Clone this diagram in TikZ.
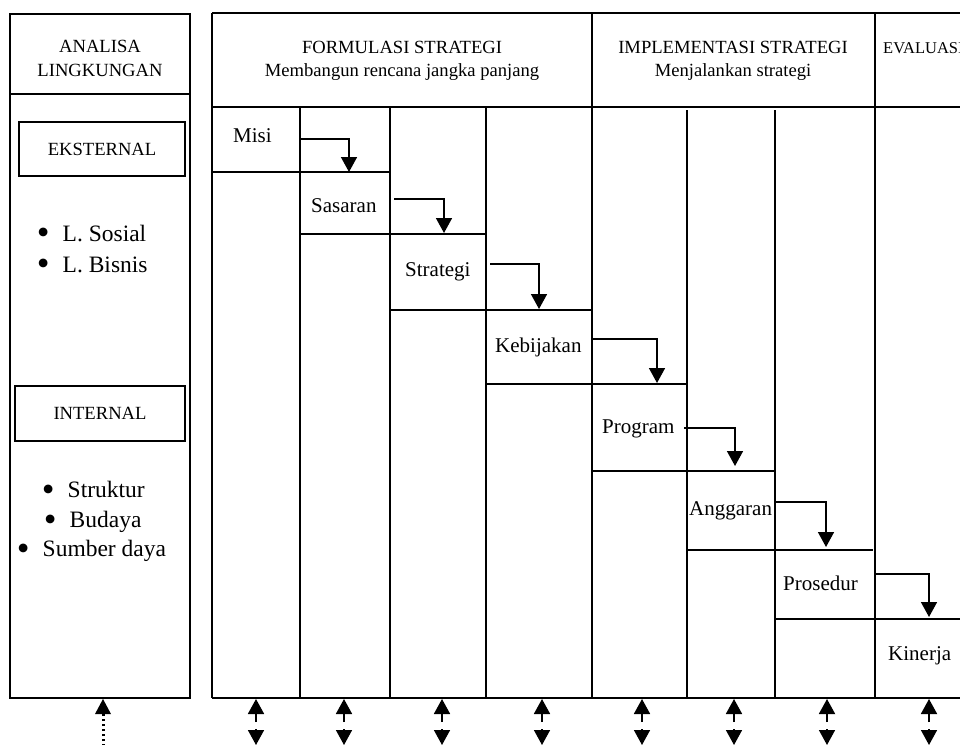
\documentclass[tikz,border=0pt]{standalone}
\usepackage{fontspec}
\setmainfont{Liberation Serif}
\usetikzlibrary{arrows.meta}
% bullet centred on the node's west edge, text 19.5pt to the right
\newcommand\bitem[1]{\smash{\makebox[0pt][c]{\raisebox{-0.17em}{\scalebox{1.55}{•}}}}\hspace{19.5pt}#1}
\begin{document}
\begin{tikzpicture}[x=1pt,y=-1pt,
  grid/.style={line width=1.6pt},
  headtxt/.style={font=\fontsize{18.6}{22}\selectfont, anchor=base, inner sep=0pt},
  celltxt/.style={font=\fontsize{21}{25}\selectfont, anchor=base west, inner sep=0pt},
  bullettxt/.style={font=\fontsize{23.5}{28}\selectfont, anchor=base west, inner sep=0pt},
  tagbox/.style={draw, line width=1.6pt, inner sep=0pt, font=\fontsize{18.6}{22}\selectfont},
  flow/.style={line width=1.6pt, -{Triangle[width=16pt,length=15pt]}},
  feed/.style={line width=1.8pt, -{Triangle[width=16pt,length=15pt]}},
  dotfeed/.style={line width=3pt, dash pattern=on 2.5pt off 2.5pt, -{Triangle[width=16pt,length=15pt,line width=0pt]}},
  downtip/.style={line width=1.6pt, -{Triangle[width=16pt,length=15pt]}}
]
\useasboundingbox (0,0) rectangle (960,744);
\clip (0,0) rectangle (960,744);

% ---- environment analysis column ----
\draw[grid] (10,14) rectangle (190,698);
\draw[grid] (10,94) -- (190,94);
\node[headtxt] (anl1) at (100,52) {ANALISA};
\node[headtxt] (anl2) at (100,76) {LINGKUNGAN};
\node[tagbox, minimum width=166pt, minimum height=54pt] (eks) at (102,149) {EKSTERNAL};
\node[tagbox, minimum width=170pt, minimum height=55pt] (int) at (100,413.5) {INTERNAL};
\node[bullettxt] (b1) at (43,241) {\bitem{L. Sosial}};
\node[bullettxt] (b2) at (43,272) {\bitem{L. Bisnis}};
\node[bullettxt] (b3) at (48,497) {\bitem{Struktur}};
\node[bullettxt] (b4) at (50,527) {\bitem{Budaya}};
\node[bullettxt] (b5) at (23,556) {\bitem{Sumber daya}};

% ---- main process table ----
\draw[grid] (212,13) -- (962,13);
\draw[grid] (212,107) -- (962,107);
\draw[grid] (212,698) -- (962,698);
\foreach \x in {212,592,875} \draw[grid] (\x,13) -- (\x,698);
\foreach \x in {300,390,486} \draw[grid] (\x,107) -- (\x,698);
\foreach \x in {687,775} \draw[grid] (\x,110) -- (\x,698);

% staircase rows
\draw[grid] (212,172) -- (390,172);
\draw[grid] (300,234) -- (486,234);
\draw[grid] (390,310) -- (592,310);
\draw[grid] (486,384) -- (687,384);
\draw[grid] (592,471) -- (775,471);
\draw[grid] (687,550) -- (873,550);
\draw[grid] (775,619) -- (962,619);

% headers
\node[headtxt] (fs1) at (402,53) {FORMULASI STRATEGI};
\node[headtxt] (fs2) at (402,76) {Membangun rencana jangka panjang};
\node[headtxt] (is1) at (733,53) {IMPLEMENTASI STRATEGI};
\node[headtxt] (is2) at (733,76) {Menjalankan strategi};
\node[font=\fontsize{16.5}{20}\selectfont, anchor=base west, inner sep=0pt] (ev) at (883,53) {EVALUASI};

% step labels
\node[celltxt] (misi) at (233,142.5) {Misi};
\node[celltxt] (sas)  at (311,212) {Sasaran};
\node[celltxt] (str)  at (405,276) {Strategi};
\node[celltxt] (keb)  at (495,352.5) {Kebijakan};
\node[celltxt] (prg)  at (602,433) {Program};
\node[celltxt] (ang)  at (689,515) {Anggaran};
\node[celltxt] (pro)  at (783,590) {Prosedur};
\node[celltxt] (kin)  at (888,660) {Kinerja};

% elbow arrows between steps
\coordinate (s1) at (300,139); \coordinate (e1) at (349,172);
\coordinate (s2) at (394,199); \coordinate (e2) at (444,233);
\coordinate (s3) at (490,264); \coordinate (e3) at (539,309);
\coordinate (s4) at (592,339); \coordinate (e4) at (657,383);
\coordinate (s5) at (684,428); \coordinate (e5) at (735,466);
\coordinate (s6) at (776,502); \coordinate (e6) at (826,547);
\coordinate (s7) at (875,574); \coordinate (e7) at (929,617);
\foreach \i in {1,...,7} \draw[flow] (s\i) -| (e\i);

% feedback arrows under the columns
\foreach \x [count=\k] in {256,344,442,542,642,734,827,929} {
  \coordinate (ub\k) at (\x,722); \coordinate (ut\k) at (\x,699);
  \coordinate (db\k) at (\x,729); \coordinate (dt\k) at (\x,745);
  \draw[feed] (ub\k) -- (ut\k);
  \draw[downtip] (db\k) -- (dt\k);
}
\coordinate (lb) at (103,746); \coordinate (lt) at (103,699);
\draw[dotfeed] (lb) -- (lt);
\end{tikzpicture}
\end{document}
